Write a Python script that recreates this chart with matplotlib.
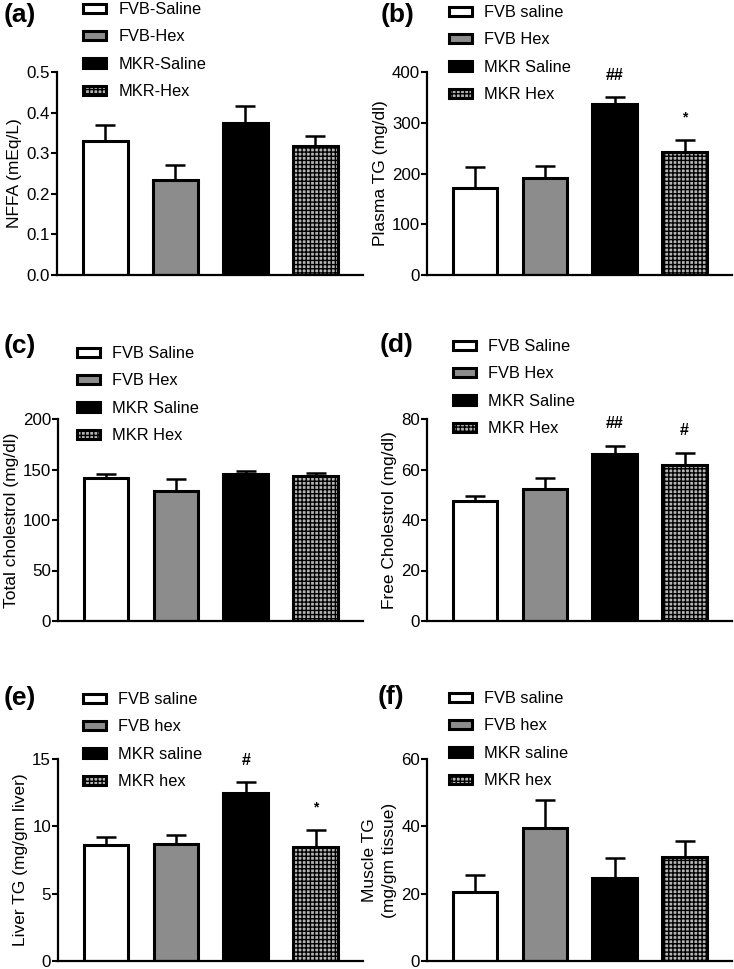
import numpy as np
import matplotlib
matplotlib.use('Agg')
import matplotlib.pyplot as plt

plt.rcParams['font.family'] = ['Liberation Sans', 'DejaVu Sans']
plt.rcParams['hatch.linewidth'] = 1.0
plt.rcParams['hatch.color'] = 'black'

# bar values (mean) and SEM
nffa_labels = ['FVB-Saline', 'FVB-Hex', 'MKR-Saline', 'MKR-Hex']
nffa_mean = [0.330, 0.233, 0.375, 0.318]
nffa_sem = [0.039, 0.037, 0.041, 0.024]

ptg_labels = ['FVB saline', 'FVB Hex', 'MKR Saline', 'MKR Hex']
ptg_mean = [172, 191, 336, 243]
ptg_sem = [41, 23, 14, 23]
ptg_marks = ['', '', '##', '*']

tc_labels = ['FVB Saline', 'FVB Hex', 'MKR Saline', 'MKR Hex']
tc_mean = [142, 129, 146, 143.5]
tc_sem = [3.3, 12, 2.7, 2.6]

fc_labels = ['FVB Saline', 'FVB Hex', 'MKR Saline', 'MKR Hex']
fc_mean = [47.4, 52.4, 66.1, 61.8]
fc_sem = [2.0, 4.3, 3.3, 4.7]
fc_marks = ['', '', '##', '#']

ltg_labels = ['FVB saline', 'FVB hex', 'MKR saline', 'MKR hex']
ltg_mean = [8.6, 8.72, 12.48, 8.48]
ltg_sem = [0.62, 0.6, 0.79, 1.28]
ltg_marks = ['', '', '#', '*']

mtg_labels = ['FVB saline', 'FVB hex', 'MKR saline', 'MKR hex']
mtg_mean = [20.4, 39.5, 24.8, 30.8]
mtg_sem = [5.1, 8.2, 5.7, 4.7]

face_colors = ['white', '#8c8c8c', 'black', '#b4b4b4']
hatches = ['', '', '', '++++']

fig = plt.figure(figsize=(7.34, 9.69), dpi=100)
W, H = 734, 969


def px_axes(left, right, top, bottom):
    return fig.add_axes([left / W, 1 - bottom / H, (right - left) / W, (bottom - top) / H])


def panel(ax, tag, labels, mean, sem, ylabel, ylim, yticks, fmt, leg_xy, tag_xy, marks=None):
    x = np.arange(len(mean))
    ax.errorbar(x, mean, yerr=[np.zeros(len(sem)), sem], fmt='none', ecolor='black',
                elinewidth=1.8, capsize=7, capthick=1.8, zorder=1)
    for i in range(len(mean)):
        ax.bar(x[i], mean[i], width=0.64, color=face_colors[i], edgecolor='black',
               linewidth=2.2, hatch=hatches[i], label=labels[i], zorder=2)
    if marks:
        for i, m in enumerate(marks):
            if m:
                ax.annotate(m, (x[i], mean[i] + sem[i]), xytext=(0, 16), textcoords='offset points',
                            ha='center', va='center', fontsize=11.5 if m != '*' else 10,
                            fontweight='bold', annotation_clip=False)
    ax.set_xlim(-0.69, 3.68)
    ax.set_ylim(*ylim)
    ax.set_yticks(yticks)
    ax.set_yticklabels([fmt.format(t) for t in yticks])
    ax.set_xticks([])
    for s in ['top', 'right']:
        ax.spines[s].set_visible(False)
    for s in ['left', 'bottom']:
        ax.spines[s].set_linewidth(1.6)
    ax.tick_params(axis='y', length=4, width=1.5, labelsize=12.2, pad=1)
    ax.set_ylabel(ylabel, fontsize=12.5, labelpad=3, linespacing=1.4)
    ax.legend(loc='upper left', bbox_to_anchor=(leg_xy[0] / W, 1 - leg_xy[1] / H),
              bbox_transform=fig.transFigure, frameon=False, fontsize=11.8,
              handlelength=1.4, handleheight=0.5, handletextpad=0.75,
              labelspacing=0.76, borderpad=0, borderaxespad=0)
    fig.text(tag_xy[0] / W, 1 - tag_xy[1] / H, tag, fontsize=19, fontweight='bold',
             ha='left', va='center')


ax_a = px_axes(57, 363, 72, 275)
panel(ax_a, '(a)', nffa_labels, nffa_mean, nffa_sem, 'NFFA (mEq/L)', (0, 0.5),
      [0, 0.1, 0.2, 0.3, 0.4, 0.5], '{:.1f}', (83, 2), (4, 15))

ax_b = px_axes(427, 732, 72, 275)
panel(ax_b, '(b)', ptg_labels, ptg_mean, ptg_sem, 'Plasma TG (mg/dl)', (0, 400),
      [0, 100, 200, 300, 400], '{:.0f}', (449, 5), (381, 15), ptg_marks)

ax_c = px_axes(58, 363, 419, 621)
panel(ax_c, '(c)', tc_labels, tc_mean, tc_sem, 'Total cholestrol (mg/dl)', (0, 200),
      [0, 50, 100, 150, 200], '{:.0f}', (77, 346), (4, 346))

ax_d = px_axes(427, 732, 419, 621)
panel(ax_d, '(d)', fc_labels, fc_mean, fc_sem, 'Free Cholestrol (mg/dl)', (0, 80),
      [0, 20, 40, 60, 80], '{:.0f}', (453, 339), (380, 345), fc_marks)

ax_e = px_axes(58, 363, 759, 961)
panel(ax_e, '(e)', ltg_labels, ltg_mean, ltg_sem, 'Liver TG (mg/gm liver)', (0, 15),
      [0, 5, 10, 15], '{:.0f}', (83, 692), (4, 698), ltg_marks)

ax_f = px_axes(427, 732, 759, 961)
panel(ax_f, '(f)', mtg_labels, mtg_mean, mtg_sem, 'Muscle TG\n(mg/gm tissue)', (0, 60),
      [0, 20, 40, 60], '{:.0f}', (449, 691), (378, 697))

fig.savefig('out.png', dpi=100)
